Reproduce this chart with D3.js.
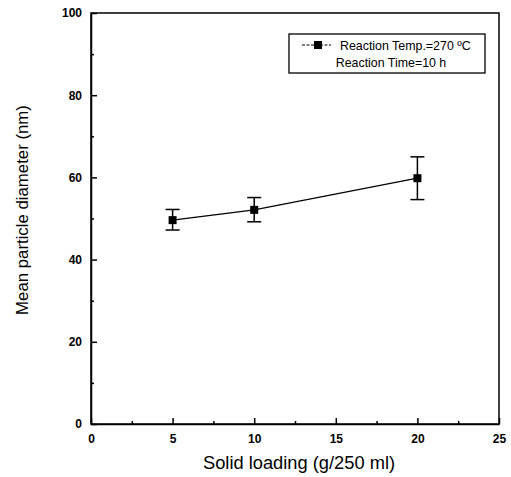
<html>
  <script src='https://d3js.org/d3.v7.min.js'></script>
  <head>
    <title>Mean particle diameter</title>
    <style>
      body { margin: 0; background: #fff; }
    </style>
  </head>
  <body>
    <svg></svg>
    <script>
      // values
      const loading = [5, 10, 20];
      const diameter = [49.6, 52.1, 59.8];
      const errLow = [47.2, 49.2, 54.6];
      const errHigh = [52.2, 55.1, 65.0];
      const xTicks = [0, 5, 10, 15, 20, 25];
      const yTicks = [0, 20, 40, 60, 80, 100];
      const legendLines = ["Reaction Temp.=270 \u00baC", "Reaction Time=10 h"];

      const width = 511, height = 477;
      const plotL = 91, plotR = 499, plotT = 13, plotB = 424;

      const svg = d3.select("svg").attr("width", width).attr("height", height);

      const x = d3.scaleLinear().domain([0, 25]).range([plotL, plotR]);
      const y = d3.scaleLinear().domain([0, 100]).range([plotB, plotT]);

      // frame
      svg.append("rect")
        .attr("x", plotL).attr("y", plotT)
        .attr("width", plotR - plotL).attr("height", plotB - plotT)
        .attr("fill", "none").attr("stroke", "#000").attr("stroke-width", 1.5);

      // bottom axis, ticks inward
      const xAxis = svg.append("g").attr("transform", "translate(0," + plotB + ")")
        .call(d3.axisBottom(x).tickValues(xTicks).tickSizeInner(-6).tickSizeOuter(0).tickPadding(10));
      svg.append("g").attr("transform", "translate(0," + plotB + ")")
        .call(d3.axisBottom(x).tickValues(d3.range(2.5, 25, 5)).tickSizeInner(-3).tickSizeOuter(0).tickFormat(""))
        .select(".domain").remove();

      const yAxis = svg.append("g").attr("transform", "translate(" + plotL + ",0)")
        .call(d3.axisLeft(y).tickValues(yTicks).tickSizeInner(-6).tickSizeOuter(0).tickPadding(9));
      svg.append("g").attr("transform", "translate(" + plotL + ",0)")
        .call(d3.axisLeft(y).tickValues(d3.range(10, 100, 20)).tickSizeInner(-3).tickSizeOuter(0).tickFormat(""))
        .select(".domain").remove();

      svg.selectAll(".domain").attr("stroke-width", 1.5);
      svg.selectAll(".tick line").attr("stroke-width", 1.5);
      [xAxis, yAxis].forEach(function(a) {
        a.selectAll("text")
          .style("font-family", "Liberation Sans, Arial, sans-serif")
          .style("font-size", "12px")
          .style("font-weight", "bold")
          .attr("fill", "#000");
      });

      // axis titles
      svg.append("text")
        .attr("x", 299).attr("y", 469)
        .attr("text-anchor", "middle")
        .style("font-family", "Liberation Sans, Arial, sans-serif")
        .style("font-size", "18.3px")
        .text("Solid loading (g/250 ml)");

      svg.append("text")
        .attr("transform", "translate(28,210) rotate(-90)")
        .attr("text-anchor", "middle")
        .style("font-family", "Liberation Sans, Arial, sans-serif")
        .style("font-size", "16.8px")
        .text("Mean particle diameter (nm)");

      const pts = loading.map(function(d, i) {
        return { x: d, y: diameter[i], lo: errLow[i], hi: errHigh[i] };
      });

      // line
      svg.append("path")
        .datum(pts)
        .attr("fill", "none").attr("stroke", "#000").attr("stroke-width", 1.3)
        .attr("d", d3.line().x(function(d) { return x(d.x); }).y(function(d) { return y(d.y); }));

      // error bars
      const eb = svg.append("g").selectAll("g").data(pts).enter().append("g");
      eb.append("line")
        .attr("x1", function(d) { return x(d.x); }).attr("x2", function(d) { return x(d.x); })
        .attr("y1", function(d) { return y(d.lo); }).attr("y2", function(d) { return y(d.hi); })
        .attr("stroke", "#000").attr("stroke-width", 1.5);
      eb.append("line")
        .attr("x1", function(d) { return x(d.x) - 7; }).attr("x2", function(d) { return x(d.x) + 7; })
        .attr("y1", function(d) { return y(d.lo); }).attr("y2", function(d) { return y(d.lo); })
        .attr("stroke", "#000").attr("stroke-width", 1.5);
      eb.append("line")
        .attr("x1", function(d) { return x(d.x) - 7; }).attr("x2", function(d) { return x(d.x) + 7; })
        .attr("y1", function(d) { return y(d.hi); }).attr("y2", function(d) { return y(d.hi); })
        .attr("stroke", "#000").attr("stroke-width", 1.5);

      // square markers
      svg.append("g").selectAll("rect").data(pts).enter().append("rect")
        .attr("x", function(d) { return x(d.x) - 4; })
        .attr("y", function(d) { return y(d.y) - 4; })
        .attr("width", 8).attr("height", 8)
        .attr("fill", "#000");

      // legend
      const lg = svg.append("g");
      lg.append("rect")
        .attr("x", 289).attr("y", 34).attr("width", 196).attr("height", 39)
        .attr("fill", "#fff").attr("stroke", "#000").attr("stroke-width", 1.3);
      lg.append("line")
        .attr("x1", 302).attr("x2", 331).attr("y1", 45).attr("y2", 45)
        .attr("stroke", "#000").attr("stroke-width", 1).attr("stroke-dasharray", "3,1.5");
      lg.append("rect")
        .attr("x", 314).attr("y", 41).attr("width", 8).attr("height", 8).attr("fill", "#000");
      lg.append("text")
        .attr("x", 340).attr("y", 50)
        .style("font-family", "Liberation Sans, Arial, sans-serif")
        .style("font-size", "12.4px")
        .text(legendLines[0]);
      lg.append("text")
        .attr("x", 391).attr("y", 67)
        .attr("text-anchor", "middle")
        .style("font-family", "Liberation Sans, Arial, sans-serif")
        .style("font-size", "12.4px")
        .text(legendLines[1]);
    </script>
  </body>
</html>
